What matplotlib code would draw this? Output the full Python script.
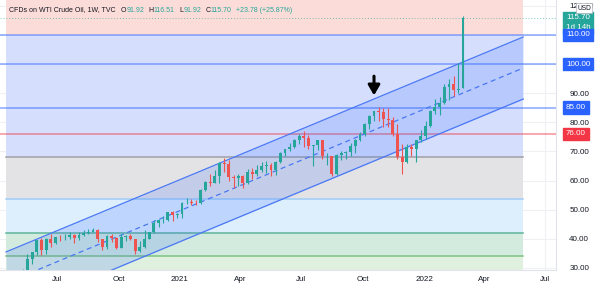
import numpy as np
import pandas as pd
import matplotlib
matplotlib.use("Agg")
import matplotlib.pyplot as plt
import matplotlib.dates as mdates

plt.rcParams['font.family'] = ['Liberation Sans', 'DejaVu Sans']

# weekly candles of WTI, first week starts 2020-05-04
first_week = "2020-05-04"
opens = [20.4, 24.7, 29.4, 33.2, 35.5, 39.6, 36.3, 39.8, 38.5, 40.6, 40.5, 40.6, 41.3, 40.3, 41.2, 42.0, 42.3, 42.9,
         39.8, 37.3, 41.1, 40.3, 37.0, 40.6, 40.9, 39.8, 35.8, 37.1, 40.1, 42.2, 45.5, 46.3, 46.6, 49.1, 48.2,
         48.5, 52.2, 52.4, 52.3, 52.2, 56.9, 59.5, 59.2, 61.5, 66.1, 65.6, 61.4, 60.9, 61.5, 59.3, 63.1, 62.1, 63.6,
         64.9, 65.4, 63.6, 66.3, 69.6, 70.9, 71.6, 74.0, 75.2, 74.6, 71.8, 72.1, 73.9, 68.3, 68.4, 62.3, 68.7, 69.3,
         69.7, 71.9, 74.0, 75.9, 79.4, 82.3, 83.8, 83.6, 81.3, 80.8, 76.1, 68.2, 66.3, 71.7, 70.9, 73.8,
         75.2, 78.9, 83.8, 85.1, 86.8, 92.3, 93.1, 91.1, 91.92]
highs = [25.8, 29.6, 34.7, 35.6, 39.7, 40.4, 40.2, 41.6, 40.8, 41.2, 41.5, 42.5, 41.7, 42.5, 43.0, 43.4, 43.8, 43.5,
         39.8, 41.2, 41.5, 40.8, 41.5, 41.3, 41.7, 39.8, 39.2, 43.1, 42.3, 46.3, 46.7, 47.7, 49.3, 49.4, 48.9,
         52.7, 53.9, 53.6, 53.5, 57.0, 59.8, 62.3, 63.8, 66.4, 67.9, 67.0, 61.8, 62.3, 61.9, 64.0, 64.4, 65.5, 66.5,
         66.7, 66.0, 66.6, 69.8, 70.9, 72.9, 74.2, 76.0, 76.9, 75.5, 72.3, 74.1, 74.0, 69.6, 68.4, 69.0, 70.0, 70.0,
         73.0, 74.2, 76.7, 79.8, 82.4, 84.0, 85.4, 84.9, 84.9, 81.7, 79.3, 72.5, 72.6, 72.6, 74.0, 77.4,
         80.3, 84.1, 87.9, 88.8, 93.2, 94.9, 95.8, 100.5, 116.51]
lows = [19.1, 23.6, 29.0, 31.2, 34.4, 34.6, 34.7, 37.1, 38.3, 39.4, 39.5, 39.8, 38.7, 39.7, 40.9, 41.5, 42.3, 39.0,
        36.1, 36.6, 39.0, 36.6, 37.0, 39.3, 39.6, 34.9, 35.5, 36.7, 39.9, 42.1, 43.9, 45.5, 46.1, 46.2, 47.2,
        47.2, 51.8, 51.5, 51.6, 51.8, 56.5, 58.3, 59.0, 59.2, 63.1, 59.7, 57.3, 58.0, 57.6, 58.8, 60.6, 61.5, 63.0,
        62.6, 61.6, 61.9, 66.1, 68.5, 70.0, 71.2, 72.5, 71.6, 71.0, 65.0, 70.5, 67.5, 65.2, 61.7, 61.8, 67.1, 67.5,
        68.6, 69.5, 73.5, 75.2, 77.8, 80.6, 80.6, 78.3, 78.4, 75.4, 67.4, 62.4, 66.1, 68.4, 66.4, 73.2,
        74.3, 78.5, 82.8, 82.4, 86.3, 87.8, 88.9, 89.9, 91.92]
closes = [24.7, 29.4, 33.2, 35.5, 39.6, 36.3, 39.8, 38.5, 40.6, 40.5, 40.6, 41.3, 40.3, 41.2, 42.0, 42.3, 42.9, 39.8,
          37.3, 41.1, 40.3, 37.0, 40.6, 40.9, 39.8, 35.8, 37.1, 40.1, 42.2, 45.5, 46.3, 46.6, 49.1, 48.2, 48.5,
          52.2, 52.4, 52.3, 52.2, 56.9, 59.5, 59.2, 61.5, 66.1, 65.6, 61.4, 60.9, 61.5, 59.3, 63.1, 62.1, 63.6, 64.9,
          65.4, 63.6, 66.3, 69.6, 70.9, 71.6, 74.0, 75.2, 74.6, 71.8, 72.1, 73.9, 68.3, 68.4, 62.3, 68.7, 69.3, 69.7,
          71.9, 74.0, 75.9, 79.4, 82.3, 83.8, 83.6, 81.3, 80.8, 76.1, 68.2, 66.3, 71.7, 70.9, 73.8, 75.2,
          78.9, 83.8, 85.1, 86.8, 92.3, 93.1, 91.1, 91.6, 115.70]

# fib-style bands (edges top -> bottom) and their colours
band_edges = [130, 110, 68, 53.6, 42, 34, 20]
band_colors = ["#fcdcd8", "#d5dffd", "#e3e3e5", "#ddeefd", "#d3eadf", "#dff1de"]
fib_lines = [68, 53.6, 42, 34]
fib_line_colors = ["#a0a0a6", "#9fcdf7", "#5fb59a", "#7cc47f"]
band_start, band_end = "2020-04-16", "2022-05-29"

# horizontal levels drawn by hand
levels = [110, 100, 85, 76]
level_colors = ["#2962ff", "#2962ff", "#2962ff", "#f23645"]

# parallel channel
chan_dates = ["2020-04-16", "2022-05-29"]
chan_upper = [35.5, 109.3]
chan_step = 10.65

month_ticks = ["2020-07-01", "2020-10-01", "2021-01-01", "2021-04-01", "2021-07-01",
               "2021-10-01", "2022-01-01", "2022-04-01", "2022-07-01"]
month_labels = ["Jul", "Oct", "2021", "Apr", "Jul", "Oct", "2022", "Apr", "Jul"]
price_ticks = [30, 40, 50, 60, 70, 80, 90, 120]

weeks = mdates.date2num(pd.date_range(first_week, periods=len(closes), freq="7D"))
o, h, l, c = map(np.array, (opens, highs, lows, closes))

W, H = 602, 288
fig = plt.figure(figsize=(W / 100, H / 100), dpi=100)
ax = fig.add_axes([0, 18 / H, 556 / W, 1 - 18 / H])
ax.set_ylim(29.3, 122.0)
ax.set_xlim(mdates.date2num(pd.Timestamp("2020-04-07")), mdates.date2num(pd.Timestamp("2022-07-17")))

# grid
for t in month_ticks:
    ax.axvline(mdates.date2num(pd.Timestamp(t)), color="#eef0f4", lw=0.8, zorder=0)
for v in range(30, 130, 10):
    ax.axhline(v, color="#eef0f4", lw=0.8, zorder=0)

x0, x1 = mdates.date2num(pd.Timestamp(band_start)), mdates.date2num(pd.Timestamp(band_end))
for top, bot, col in zip(band_edges[:-1], band_edges[1:], band_colors):
    ax.fill_between([x0, x1], bot, top, color=col, lw=0, zorder=1)
for v, col in zip(fib_lines, fib_line_colors):
    ax.plot([x0, x1], [v, v], color=col, lw=1.1, zorder=2)
for v, col in zip(levels, level_colors):
    ax.axhline(v, color=col, lw=1.1, alpha=0.55, zorder=2)

# channel
cx = mdates.date2num(pd.to_datetime(chan_dates))
cu = np.array(chan_upper)
ax.fill_between(cx, cu, cu - 2 * chan_step, color="#2962ff", alpha=0.17, lw=0, zorder=2)
ax.plot(cx, cu, color="#4a78f5", lw=0.9, zorder=3)
ax.plot(cx, cu - chan_step, color="#4a78f5", lw=0.9, ls=(0, (4, 3)), zorder=3)
ax.plot(cx, cu - 2 * chan_step, color="#4a78f5", lw=0.9, zorder=3)

# candles
up = c >= o
cols = np.where(up, "#26a69a", "#ef5350")
ax.vlines(weeks, l, h, colors=cols, lw=0.8, zorder=4)
ax.bar(weeks, np.maximum(np.abs(c - o), 0.25), bottom=np.minimum(o, c), width=4.3, color=cols, lw=0, zorder=5)

# last price dotted line
ax.axhline(closes[-1], color="#26a69a", lw=0.7, ls=(0, (1, 2)), alpha=0.6, zorder=3)

# arrow
arrow_date = mdates.date2num(pd.Timestamp("2021-10-18"))
ax.annotate("", xy=(arrow_date, 88.3), xytext=(arrow_date, 96.8),
            arrowprops=dict(arrowstyle="-|>,head_width=0.35,head_length=0.6", color="black", lw=2.2),
            zorder=6)

# x axis
ax.set_xticks(mdates.date2num(pd.to_datetime(month_ticks)))
ax.set_xticklabels(month_labels)
ax.tick_params(axis="x", length=0, pad=4, labelsize=5.8, colors="#131722")

# y axis on the right
ax.yaxis.tick_right()
ax.set_yticks(price_ticks)
ax.yaxis.set_major_formatter(matplotlib.ticker.FormatStrFormatter("%.2f"))
ax.tick_params(axis="y", length=0, pad=9.5, labelsize=5.8, colors="#131722")
for s in ["top", "left"]:
    ax.spines[s].set_visible(False)
for s in ["right", "bottom"]:
    ax.spines[s].set_color("#e0e3eb")
    ax.spines[s].set_linewidth(0.8)

def price_tag(v, text, col, dy=0, va="center"):
    ax.annotate(text, xy=(1, v), xycoords=("axes fraction", "data"), xytext=(10, dy),
                textcoords="offset pixels", ha="left", va=va, fontsize=5.8, color="white",
                annotation_clip=False, zorder=10, linespacing=1.5,
                bbox=dict(boxstyle="square,pad=0.35", fc=col, ec=col))

price_tag(115.70, "115.70\n1d 14h", "#26a69a", dy=4, va="top")
for v, col in zip(levels, level_colors):
    price_tag(v, "%.2f" % v, col)
ax.annotate("USD", xy=(1, 1), xycoords="axes fraction", xytext=(28, -8), textcoords="offset pixels",
            ha="center", va="center", fontsize=4.8, color="#131722", annotation_clip=False, zorder=11,
            bbox=dict(boxstyle="square,pad=0.2", fc="white", ec="#b2b5be", lw=0.5))

# legend line at the top
teal = "#26a69a"
parts = [("CFDs on WTI Crude Oil, 1W, TVC", "#131722", 0), ("O", "#131722", 3.5), ("91.92", teal, 0.3),
         ("H", "#131722", 3), ("116.51", teal, 0.3), ("L", "#131722", 3), ("91.92", teal, 0.3),
         ("C", "#131722", 3), ("115.70", teal, 0.3), ("+23.78 (+25.87%)", teal, 3)]
prev = ax.text(9 / 556, 1 - 10 / 270, "", transform=ax.transAxes, fontsize=5.0, va="center")
for s, col, gap in parts:
    prev = ax.annotate(s, xy=(1, 0.5), xycoords=prev, xytext=(gap, 0), textcoords="offset points",
                       ha="left", va="center", fontsize=5.0, color=col, zorder=12)

fig.savefig("out.png", dpi=100)
